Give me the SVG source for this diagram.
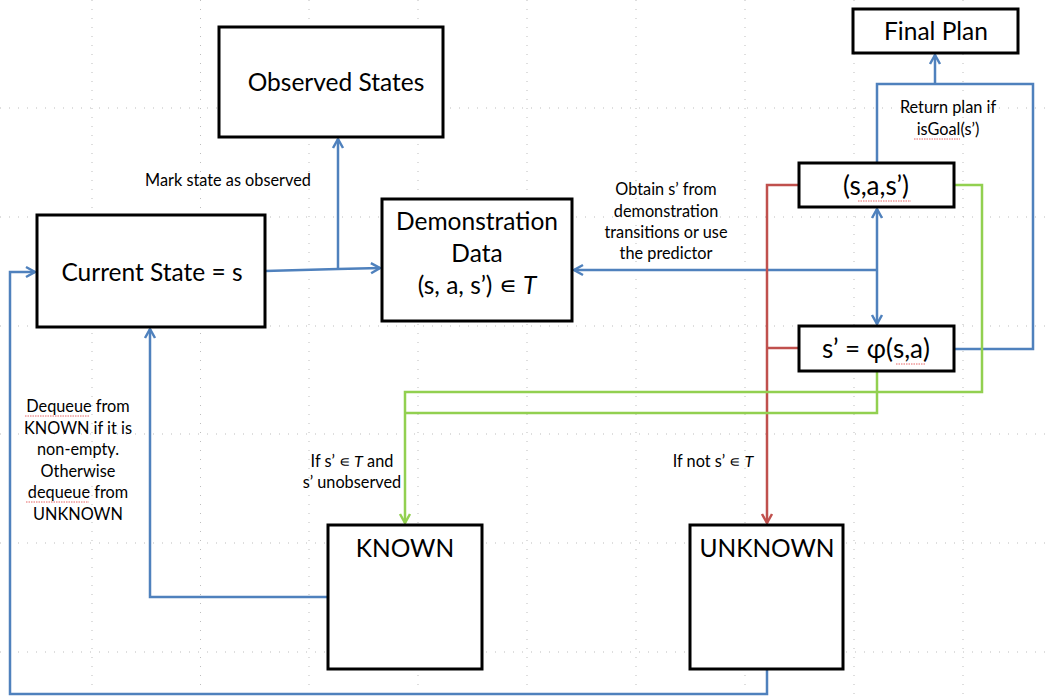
<svg xmlns="http://www.w3.org/2000/svg" width="1045" height="697" viewBox="0 0 1045 697">
<defs>
<style>
.grid{stroke:#bdbdbd;stroke-width:1;stroke-dasharray:1 8;fill:none}
.box{fill:#fff;stroke:#000;stroke-width:3}
.t{font-family:Lato,"Open Sans","Liberation Sans",sans-serif;fill:#000;text-anchor:middle}
.big{font-size:24.5px}
.sm{font-size:16.3px}
.blue{stroke:#4f81bd;stroke-width:2.5;fill:none}
.red{stroke:#c0504d;stroke-width:2.5;fill:none}
.green{stroke:#92d050;stroke-width:2.5;fill:none}
.sq{stroke:#e04040;stroke-width:0.8;fill:none;stroke-dasharray:1.5 1}
</style>
<marker id="ab" viewBox="0 0 12 12" refX="10" refY="6" markerWidth="12" markerHeight="12" orient="auto" markerUnits="userSpaceOnUse" overflow="visible">
<path d="M1,1 L10,6 L1,11" fill="none" stroke="#4f81bd" stroke-width="2.5"/>
</marker>
<marker id="ar" viewBox="0 0 12 12" refX="10" refY="6" markerWidth="12" markerHeight="12" orient="auto" markerUnits="userSpaceOnUse" overflow="visible">
<path d="M1,1 L10,6 L1,11" fill="none" stroke="#c0504d" stroke-width="2.5"/>
</marker>
<marker id="ag" viewBox="0 0 12 12" refX="10" refY="6" markerWidth="12" markerHeight="12" orient="auto" markerUnits="userSpaceOnUse" overflow="visible">
<path d="M1,1 L10,6 L1,11" fill="none" stroke="#92d050" stroke-width="2.5"/>
</marker>
</defs>
<rect width="1045" height="697" fill="#fff"/>
<g id="gridlines">
<path class="grid" d="M92,0V697M200.5,0V697M309,0V697M418,0V697M527,0V697M636,0V697M745,0V697M854,0V697M963,0V697"/>
<path class="grid" d="M0,108H1045M0,217H1045M0,326H1045M0,434H1045M0,543H1045M0,652H1045"/>
</g>
<g id="connectors">
<path class="blue" d="M265,271 L338,269 L380,268" marker-end="url(#ab)"/>
<path class="blue" d="M338,269 V139" marker-end="url(#ab)"/>
<path class="blue" d="M877,270 H574" marker-end="url(#ab)"/>
<path class="blue" d="M877,270 V209" marker-end="url(#ab)"/>
<path class="blue" d="M877,270 V324" marker-end="url(#ab)"/>
<path class="blue" d="M877,163 V84 H1033 V349 H954"/>
<path class="blue" d="M935,84 V55" marker-end="url(#ab)"/>
<path class="blue" d="M328,597 H150 V329" marker-end="url(#ab)"/>
<path class="blue" d="M767,669 V694 H10 V272 H35" marker-end="url(#ab)"/>
<path class="red" d="M799,185 H767 V523" marker-end="url(#ar)"/>
<path class="red" d="M799,348 H767"/>
<path class="green" d="M954,185 H982 V392 H405 V523" marker-end="url(#ag)"/>
<path class="green" d="M877,371 V413 H405"/>
</g>
<g id="observed-states">
<rect class="box" x="219" y="27" width="224" height="110"/>
<text class="t big" x="336" y="91">Observed States</text>
</g>
<g id="final-plan">
<rect class="box" x="853" y="9" width="165" height="44"/>
<text class="t big" x="936" y="40">Final Plan</text>
</g>
<g id="sas">
<rect class="box" x="799" y="163" width="155" height="44"/>
<text class="t big" x="876" y="195" style="font-size:26px">(s,a,s’)</text>
<path class="sq" d="M858,201 H911"/>
</g>
<g id="phi">
<rect class="box" x="799" y="326" width="155" height="45"/>
<text class="t big" x="876" y="358" style="font-size:26px">s’ = φ(s,a)</text>
<path class="sq" d="M896,364 H925"/>
</g>
<g id="current-state">
<rect class="box" x="37" y="215" width="228" height="112"/>
<text class="t big" x="152" y="281">Current State = s</text>
</g>
<g id="demonstration-data">
<rect class="box" x="382" y="199" width="190" height="122"/>
<text class="t big" x="477" y="230">Demonstration</text>
<text class="t big" x="477" y="262">Data</text>
<text class="t big" x="477" y="294">(s, a, s’) ∊ <tspan font-style="italic">T</tspan></text>
</g>
<g id="known">
<rect class="box" x="328" y="525" width="154" height="144"/>
<text class="t big" x="405" y="557">KNOWN</text>
</g>
<g id="unknown">
<rect class="box" x="690" y="525" width="153" height="144"/>
<text class="t big" x="767" y="557">UNKNOWN</text>
</g>
<g id="labels">
<text class="t sm" x="228" y="186">Mark state as observed</text>
<text class="t sm" x="948" y="113">Return plan if</text>
<text class="t sm" x="948" y="135">isGoal(s’)</text>
<path class="sq" d="M914,139 H960"/>
<text class="t sm" x="666" y="195">Obtain s’ from</text>
<text class="t sm" x="666" y="217">demonstration</text>
<text class="t sm" x="666" y="238">transitions or use</text>
<text class="t sm" x="666" y="259">the predictor</text>
<text class="t sm" x="78" y="412">Dequeue from</text>
<text class="t sm" x="78" y="434">KNOWN if it is</text>
<text class="t sm" x="78" y="455">non-empty.</text>
<text class="t sm" x="78" y="477">Otherwise</text>
<text class="t sm" x="78" y="498">dequeue from</text>
<text class="t sm" x="78" y="520">UNKNOWN</text>
<path class="sq" d="M25,416 H89M26,502 H89"/>
<text class="t sm" x="352" y="467">If s’ ∊ <tspan font-style="italic">T</tspan> and</text>
<text class="t sm" x="352" y="488">s’ unobserved</text>
<text class="t sm" x="713" y="467">If not s’ ∊ <tspan font-style="italic">T</tspan></text>
</g>
</svg>
